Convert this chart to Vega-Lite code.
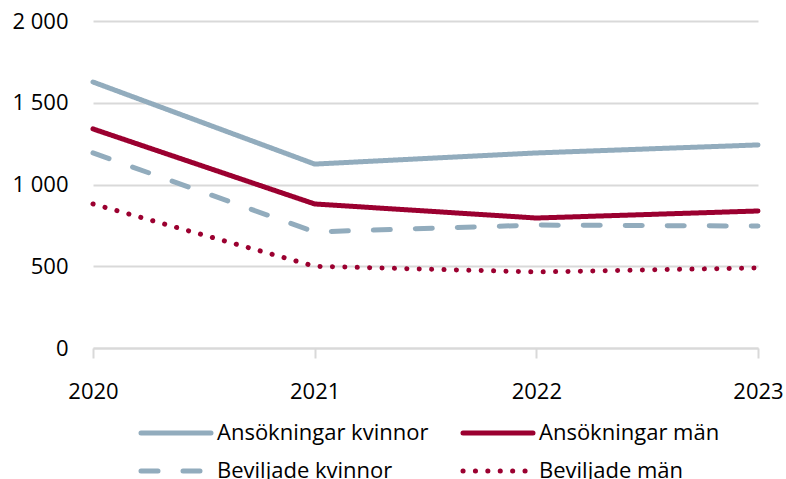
{
  "$schema": "https://vega.github.io/schema/vega-lite/v6.json",
  "width": 665,
  "height": 327,
  "autosize": {"type": "none"},
  "padding": {"left": 93, "top": 21, "right": 28, "bottom": 131},
  "background": "white",
  "config": {
    "font": "Open Sans",
    "view": {"stroke": null}
  },
  "data": {
    "values": [
      {"year": "2020", "series": "Ansökningar kvinnor", "value": 1627},
      {"year": "2021", "series": "Ansökningar kvinnor", "value": 1125},
      {"year": "2022", "series": "Ansökningar kvinnor", "value": 1193},
      {"year": "2023", "series": "Ansökningar kvinnor", "value": 1242},
      {"year": "2020", "series": "Ansökningar män", "value": 1340},
      {"year": "2021", "series": "Ansökningar män", "value": 881},
      {"year": "2022", "series": "Ansökningar män", "value": 795},
      {"year": "2023", "series": "Ansökningar män", "value": 838},
      {"year": "2020", "series": "Beviljade kvinnor", "value": 1193},
      {"year": "2021", "series": "Beviljade kvinnor", "value": 710},
      {"year": "2022", "series": "Beviljade kvinnor", "value": 752},
      {"year": "2023", "series": "Beviljade kvinnor", "value": 746},
      {"year": "2020", "series": "Beviljade män", "value": 881},
      {"year": "2021", "series": "Beviljade män", "value": 500},
      {"year": "2022", "series": "Beviljade män", "value": 465},
      {"year": "2023", "series": "Beviljade män", "value": 490}
    ]
  },
  "mark": {"type": "line", "strokeWidth": 5, "strokeCap": "round", "strokeJoin": "round"},
  "encoding": {
    "x": {
      "field": "year", "type": "ordinal",
      "scale": {"type": "point", "padding": 0},
      "axis": {
        "title": null, "labelAngle": 0, "labelFontSize": 22, "labelColor": "#000000",
        "labelPadding": 23, "tickSize": 10, "tickColor": "#d9d9d9", "tickWidth": 2,
        "domainColor": "#d9d9d9", "domainWidth": 2, "grid": false
      }
    },
    "y": {
      "field": "value", "type": "quantitative",
      "scale": {"domain": [0, 2000]},
      "axis": {
        "title": null, "values": [0, 500, 1000, 1500, 2000],
        "labelExpr": "replace(format(datum.value, ','), ',', ' ')",
        "labelFontSize": 22, "labelColor": "#000000", "labelPadding": 25,
        "ticks": false, "domain": false,
        "gridColor": "#d9d9d9", "gridWidth": 2
      }
    },
    "color": {
      "field": "series", "type": "nominal",
      "scale": {
        "domain": ["Ansökningar kvinnor", "Ansökningar män", "Beviljade kvinnor", "Beviljade män"],
        "range": ["#92ACBD", "#9B0030", "#92ACBD", "#9B0030"]
      },
      "legend": {
        "title": null, "orient": "none", "legendX": 72, "legendY": 401,
        "direction": "horizontal",
        "columns": 2, "columnPadding": 24, "rowPadding": 16,
        "symbolType": "M-5,0H5", "symbolSize": 196, "symbolStrokeWidth": 5,
        "labelFontSize": 22, "labelColor": "#000000", "labelOffset": 30, "labelLimit": 400,
        "encode": {"symbols": {"update": {"strokeCap": {"value": "round"}}}}
      }
    },
    "strokeDash": {
      "field": "series", "type": "nominal",
      "scale": {
        "domain": ["Ansökningar kvinnor", "Ansökningar män", "Beviljade kvinnor", "Beviljade män"],
        "range": [[1, 0], [1, 0], [17, 25], [0.1, 12.3]]
      },
      "legend": null
    }
  }
}
